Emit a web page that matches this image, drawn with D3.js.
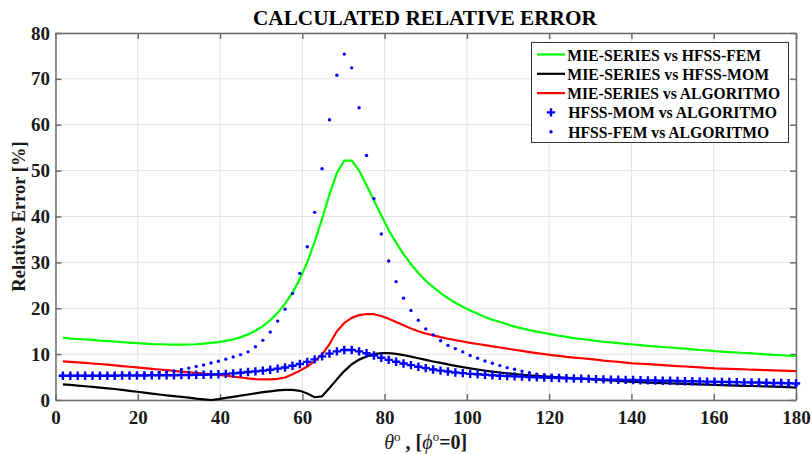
<!DOCTYPE html>
<html><head><meta charset="utf-8">
<script src="https://cdn.jsdelivr.net/npm/d3@7"></script>
<style>
html,body{margin:0;padding:0;background:#fff;}
text{font-family:"Liberation Serif","Times New Roman",serif;}
</style></head>
<body><svg id="chart" width="812" height="454"></svg>
<script>
const titleText = "CALCULATED RELATIVE ERROR";
const xTicks = [0,20,40,60,80,100,120,140,160,180];
const yTicks = [0,10,20,30,40,50,60,70,80];
const seriesNames = ["MIE-SERIES vs HFSS-FEM","MIE-SERIES vs HFSS-MOM","MIE-SERIES vs ALGORITMO","HFSS-MOM vs ALGORITMO","HFSS-FEM vs ALGORITMO"];
// theta grid: 1.8 .. 180 step 1.8 (100 samples)
const theta = d3.range(1,101).map(k => +(k*1.8).toFixed(1));

const mieFem = [13.6,13.4,13.3,13.2,13.1,12.95,12.85,12.75,12.6,12.5,
 12.4,12.3,12.2,12.15,12.1,12.05,12.05,12.1,12.15,12.3,
 12.45,12.6,12.9,13.2,13.7,14.3,15.1,16.1,17.4,19.0,
 21.0,23.4,26.4,30.0,34.5,39.5,44.8,49.5,52.2,52.2,
 50.0,46.8,43.5,40.2,37.0,34.3,31.8,29.6,27.7,26.0,
 24.6,23.3,22.2,21.2,20.3,19.5,18.8,18.1,17.5,17.0,
 16.5,16.0,15.6,15.2,14.9,14.6,14.3,14.0,13.75,13.5,
 13.3,13.1,12.9,12.7,12.55,12.4,12.25,12.1,11.95,11.8,
 11.7,11.55,11.45,11.3,11.2,11.05,10.9,10.8,10.65,10.55,
 10.45,10.35,10.25,10.15,10.05,9.95,9.85,9.75,9.65,9.55];

const mieMom = [3.4,3.3,3.15,3.0,2.85,2.7,2.55,2.4,2.2,2.0,
 1.8,1.6,1.4,1.2,1.0,0.85,0.7,0.5,0.3,0.15,
 0.0,0.2,0.45,0.7,0.95,1.2,1.45,1.7,1.9,2.1,
 2.2,2.2,2.0,1.4,0.6,0.8,2.6,4.5,6.3,7.8,
 8.8,9.5,10.0,10.2,10.2,10.05,9.8,9.45,9.1,8.75,
 8.4,8.1,7.75,7.45,7.15,6.9,6.65,6.4,6.2,6.0,
 5.8,5.65,5.5,5.35,5.25,5.15,5.05,4.95,4.85,4.75,
 4.65,4.55,4.45,4.35,4.25,4.15,4.05,3.95,3.9,3.8,
 3.75,3.7,3.6,3.55,3.5,3.45,3.4,3.35,3.3,3.25,
 3.2,3.15,3.1,3.05,3.0,2.95,2.9,2.85,2.8,2.7];

const mieAlg = [8.4,8.3,8.2,8.1,7.95,7.85,7.7,7.55,7.4,7.25,
 7.1,6.95,6.8,6.65,6.5,6.35,6.2,6.05,5.9,5.75,
 5.6,5.45,5.3,5.1,4.9,4.7,4.55,4.5,4.5,4.6,
 4.9,5.6,6.4,7.3,8.5,9.9,12.2,15.0,16.8,17.9,
 18.5,18.75,18.7,18.3,17.7,17.0,16.3,15.6,15.0,14.5,
 14.1,13.7,13.35,13.05,12.75,12.45,12.2,11.95,11.7,11.45,
 11.2,10.95,10.7,10.45,10.2,10.0,9.8,9.6,9.4,9.25,
 9.1,8.95,8.8,8.6,8.45,8.3,8.15,8.0,7.9,7.8,
 7.7,7.6,7.5,7.4,7.3,7.2,7.1,7.0,6.9,6.85,
 6.8,6.75,6.7,6.6,6.55,6.5,6.45,6.4,6.35,6.3];

const momAlg = [5.3,5.3,5.3,5.3,5.3,5.3,5.3,5.3,5.35,5.35,
 5.35,5.35,5.4,5.4,5.4,5.4,5.45,5.45,5.5,5.5,
 5.55,5.6,5.7,5.8,5.95,6.1,6.25,6.4,6.6,6.85,
 7.1,7.45,7.85,8.3,8.85,9.5,10.1,10.6,10.9,10.9,
 10.6,10.2,9.7,9.2,8.75,8.35,7.95,7.6,7.25,6.95,
 6.65,6.4,6.2,6.0,5.85,5.7,5.6,5.5,5.4,5.3,
 5.2,5.15,5.1,5.0,4.95,4.9,4.85,4.8,4.75,4.7,
 4.65,4.6,4.55,4.5,4.45,4.4,4.38,4.35,4.3,4.28,
 4.25,4.2,4.18,4.15,4.1,4.08,4.05,4.0,3.98,3.95,
 3.92,3.9,3.85,3.82,3.8,3.75,3.72,3.7,3.65,3.6];

const femAlg = [5.4,5.4,5.4,5.4,5.45,5.45,5.5,5.5,5.55,5.6,
 5.65,5.7,5.8,5.95,6.1,6.35,6.65,6.95,7.3,7.65,
 8.05,8.45,8.9,9.4,9.9,10.5,11.6,13.0,14.8,17.2,
 19.8,23.2,27.6,33.4,40.9,50.4,61.1,70.8,75.4,72.4,
 63.7,53.3,43.9,36.2,30.3,25.8,22.2,19.5,17.4,15.5,
 14.2,12.9,11.9,11.2,10.5,9.7,9.1,8.5,8.0,7.5,
 7.05,6.7,6.3,5.95,5.65,5.4,5.2,5.0,4.85,4.72,
 4.6,4.5,4.4,4.3,4.22,4.15,4.08,4.0,3.95,3.9,
 3.85,3.8,3.75,3.7,3.66,3.62,3.58,3.54,3.5,3.47,
 3.44,3.41,3.38,3.35,3.32,3.3,3.28,3.26,3.24,3.22];

const svg = d3.select("#chart");
const m = {left:55.5, right:796, top:33, bottom:400};
const x = d3.scaleLinear().domain([0,180]).range([m.left,m.right]);
const y = d3.scaleLinear().domain([0,80]).range([m.bottom,m.top]);

svg.append("rect").attr("x",m.left).attr("y",m.top).attr("width",m.right-m.left).attr("height",m.bottom-m.top).attr("fill","#fff");

// grid
const grid = svg.append("g").attr("stroke","#e3e3e3").attr("stroke-width",1);
grid.selectAll(".gx").data(xTicks).join("line").attr("x1",d=>x(d)).attr("x2",d=>x(d)).attr("y1",m.top).attr("y2",m.bottom);
grid.selectAll(".gy").data(yTicks).join("line").attr("y1",d=>y(d)).attr("y2",d=>y(d)).attr("x1",m.left).attr("x2",m.right);

const fontTick = "19px";
function styleAxis(g, labels){
  g.select(".domain").attr("stroke","#6e6e6e").attr("stroke-width",1.5);
  g.selectAll(".tick line").attr("stroke","#6e6e6e").attr("stroke-width",1.5);
  g.selectAll(".tick text").attr("font-family","Liberation Serif").attr("font-weight","bold").attr("font-size",fontTick).attr("fill","#1a1a1a");
  if(!labels) g.selectAll(".tick text").remove();
}
const axB = svg.append("g").attr("transform",`translate(0,${m.bottom})`)
  .call(d3.axisBottom(x).tickValues(xTicks).tickSizeInner(-6).tickSizeOuter(0).tickPadding(10.5).tickFormat(d3.format("d")));
styleAxis(axB,true);
const axT = svg.append("g").attr("transform",`translate(0,${m.top})`)
  .call(d3.axisTop(x).tickValues(xTicks).tickSizeInner(-6).tickSizeOuter(0));
styleAxis(axT,false);
const axL = svg.append("g").attr("transform",`translate(${m.left},0)`)
  .call(d3.axisLeft(y).tickValues(yTicks).tickSizeInner(-6).tickSizeOuter(0).tickPadding(5.5).tickFormat(d3.format("d")));
styleAxis(axL,true);
const axR = svg.append("g").attr("transform",`translate(${m.right},0)`)
  .call(d3.axisRight(y).tickValues(yTicks).tickSizeInner(-6).tickSizeOuter(0));
styleAxis(axR,false);

// lines
const plot = svg.append("g");
const lineGen = d3.line().x((d,i)=>x(theta[i])).y(d=>y(d));
const lineSeries = [[mieFem,"#00ff00"],[mieMom,"#000000"],[mieAlg,"#ff0000"]];
lineSeries.forEach(([vals,col])=>{
  plot.append("path").datum(vals).attr("d",lineGen).attr("fill","none").attr("stroke",col).attr("stroke-width",2.2).attr("stroke-linejoin","round");
});
const ps = 4.2;
plot.append("g").selectAll("path").data(momAlg).join("path")
  .attr("d",(d,i)=>{const cx=x(theta[i]),cy=y(d);return `M${cx-ps},${cy}H${cx+ps}M${cx},${cy-ps}V${cy+ps}`;})
  .attr("stroke","#0000ff").attr("stroke-width",2.4).attr("fill","none");
plot.append("g").selectAll("circle").data(femAlg).join("circle")
  .attr("cx",(d,i)=>x(theta[i])).attr("cy",d=>y(d)).attr("r",1.7).attr("fill","#0000ff");

// helper: horizontally fit a text to a target width using a scale transform
function fitText(parent, tx, ty, str, size, targetW){
  const g = parent.append("g");
  const t = g.append("text").attr("x",0).attr("y",0).attr("font-weight","bold").attr("font-size",size).attr("fill","#000").text(str);
  const w = t.node().getComputedTextLength();
  const sx = w>0 ? targetW/w : 1;
  g.attr("transform",`translate(${tx},${ty}) scale(${sx},1)`);
  return t;
}

// title
fitText(svg, 253, 25, titleText, "21px", 344);

// axis labels
svg.append("text").attr("transform",`translate(25,${(m.top+m.bottom)/2}) rotate(-90)`).attr("text-anchor","middle")
  .attr("font-weight","bold").attr("font-size","18.5px").attr("fill","#1a1a1a").text("Relative Error [%]");
const xl = svg.append("text").attr("x",(m.left+m.right)/2).attr("y",449).attr("text-anchor","middle")
  .attr("font-size","20px").attr("fill","#1a1a1a");
xl.append("tspan").attr("font-style","italic").text("θ");
xl.append("tspan").attr("font-size","13px").attr("dy",-8).text("o");
xl.append("tspan").attr("dy",8).attr("font-weight","bold").text(" , [");
xl.append("tspan").attr("font-style","italic").text("ϕ");
xl.append("tspan").attr("font-size","13px").attr("dy",-8).text("o");
xl.append("tspan").attr("dy",8).attr("font-weight","bold").text("=0]");

// legend
const legendWidths = [194,202,213,209,201];
const lg = svg.append("g");
lg.append("rect").attr("x",531.5).attr("y",42.5).attr("width",257).attr("height",100).attr("fill","#fff").attr("stroke","#333").attr("stroke-width",1);
const rowY = i => 54.5 + i*19.3;
seriesNames.forEach((name,i)=>{
  const cy = rowY(i);
  if(i<3){
    lg.append("line").attr("x1",537).attr("x2",565).attr("y1",cy).attr("y2",cy).attr("stroke",lineSeries[i][1]).attr("stroke-width",2.2);
  } else if(i===3){
    lg.append("path").attr("d",`M${551-ps},${cy}H${551+ps}M551,${cy-ps}V${cy+ps}`).attr("stroke","#0000ff").attr("stroke-width",2.4);
  } else {
    lg.append("circle").attr("cx",551).attr("cy",cy).attr("r",1.7).attr("fill","#0000ff");
  }
  fitText(lg, i<3?567.3:568.3, cy+6, name, "17px", legendWidths[i]);
});
</script></body></html>
